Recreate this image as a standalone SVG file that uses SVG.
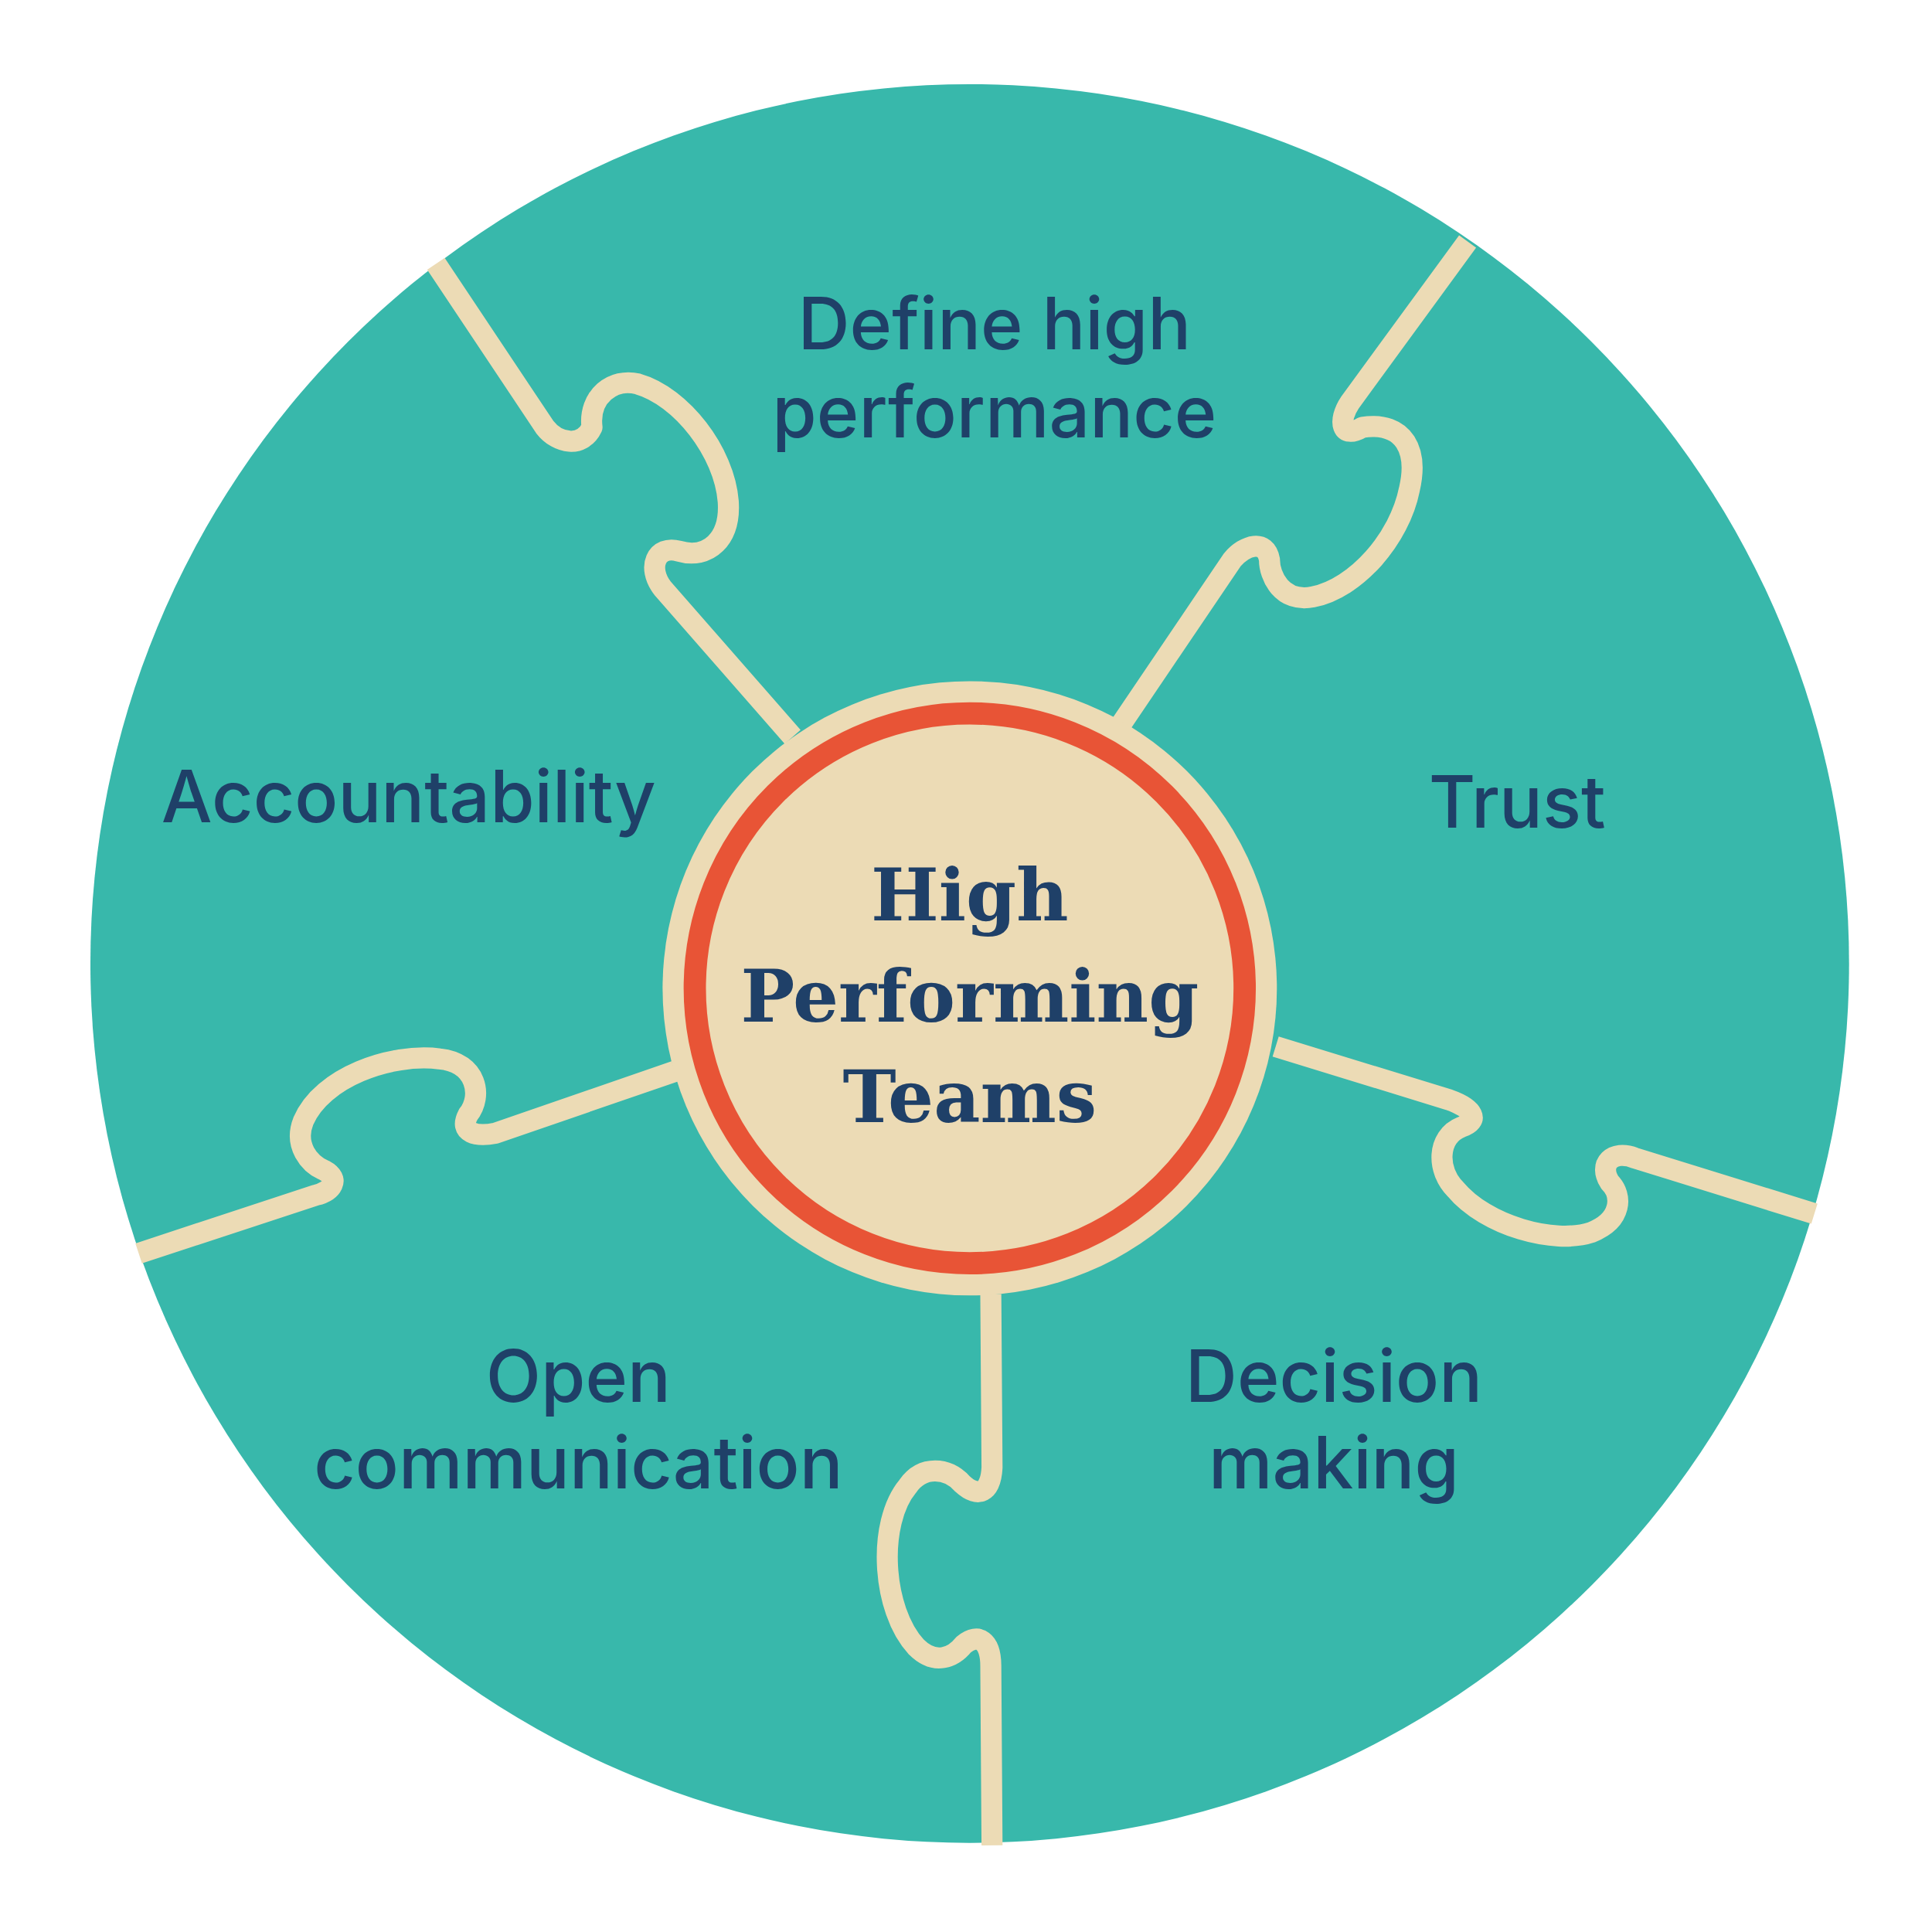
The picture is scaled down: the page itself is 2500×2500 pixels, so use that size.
<svg xmlns="http://www.w3.org/2000/svg" width="2500" height="2500" viewBox="0 0 2500 2500">
<style>
.lbl{font-family:Inter,"Liberation Sans",sans-serif;font-size:58px;fill:#1F4068;text-anchor:middle;font-weight:500}
.ctr{font-family:"DejaVu Serif","Liberation Serif",serif;font-size:58px;fill:#1F4068;text-anchor:middle;font-weight:bold}
.seam{fill:none;stroke:#ECDBB5;stroke-width:17;stroke-linejoin:round}
</style>
<rect width="2500" height="2500" fill="#fff"/>
<g transform="scale(1.6026)">
<circle id="disc" cx="783" cy="778" r="710" fill="#38B8AB"/>
<g id="connectors">
<path class="seam" d="M352,213 L440,345 C450,358 470,362 478,345 C475,320 495,305 515,310 C550,320 585,365 588,405 C590,435 572,452 548,445 C530,440 522,458 535,475 L640,595"/>
<path class="seam" d="M1185,195 L1090,325 C1080,340 1083,355 1100,345 C1135,340 1145,365 1138,395 C1130,435 1095,475 1060,482 C1035,487 1025,465 1025,452 C1022,435 1005,440 995,452 L905,585"/>
<path class="seam" d="M1030,845 L1170,888 C1190,895 1195,905 1180,910 C1160,918 1160,945 1175,960 C1200,990 1255,1005 1285,995 C1310,985 1310,965 1300,955 C1290,940 1302,928 1320,935 L1465,980"/>
<path class="seam" d="M800,1045 L801,1185 C800,1205 790,1210 777,1198 C765,1185 745,1183 733,1200 C708,1230 712,1300 740,1330 C755,1345 770,1338 778,1328 C790,1318 800,1325 800,1345 L801,1490"/>
<path class="seam" d="M545,865 L400,915 C385,918 370,915 378,900 C390,885 385,858 355,855 C315,850 260,870 245,905 C237,925 250,940 262,945 C275,952 268,962 255,965 L112,1012"/>
</g>
<g id="n-define"><text class="lbl" x="803" y="282">Define high</text><text class="lbl" x="803" y="353">performance</text></g>
<g id="n-trust"><text class="lbl" x="1225" y="668">Trust</text></g>
<g id="n-accountability"><text class="lbl" x="330" y="664">Accountability</text></g>
<g id="n-open"><text class="lbl" x="467" y="1132">Open</text><text class="lbl" x="467" y="1202">communication</text></g>
<g id="n-decision"><text class="lbl" x="1077" y="1132">Decision</text><text class="lbl" x="1077" y="1202">making</text></g>
<g id="n-center">
<circle cx="783" cy="798" r="248" fill="#ECDBB5"/>
<circle cx="783" cy="798" r="222" fill="#ECDBB5" stroke="#E85436" stroke-width="18"/>
<text class="ctr" x="783" y="743">High</text>
<text class="ctr" x="783" y="825">Performing</text>
<text class="ctr" x="783" y="906">Teams</text>
</g>
</g>
</svg>
